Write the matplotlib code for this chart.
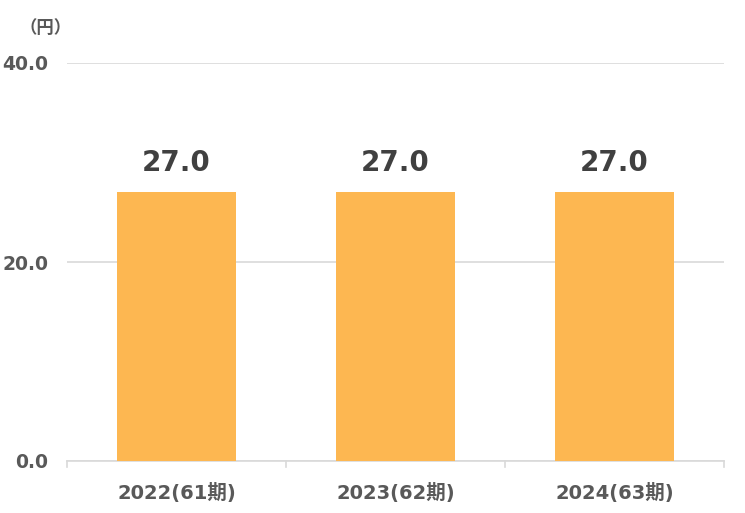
import matplotlib
matplotlib.use("Agg")
import matplotlib.pyplot as plt

categories = ["2022(61期)", "2023(62期)", "2024(63期)"]
values = [27.0, 27.0, 27.0]
yticks = [0, 20, 40]

plt.rcParams['font.family'] = ['DejaVu Sans', 'Noto Sans CJK JP']
gray = '#595959'
bar_color = '#FDB751'

fig = plt.figure(figsize=(7.45, 5.13), dpi=100)
ax = fig.add_axes([67/745, 52/513, (724-67)/745, (461-63)/513])

x = list(range(len(categories)))
bars = ax.bar(x, values, width=0.54, color=bar_color, zorder=3)
ax.set_xlim(-0.5, len(categories) - 0.5)
ax.set_ylim(0, 40)
ax.set_yticks(yticks)
ax.set_yticklabels([f"{v:.1f}" for v in yticks], fontsize=13.5, fontweight='bold', color=gray)
ax.tick_params(axis='y', length=0, pad=13.5)
ax.yaxis.grid(True, color='#D9D9D9', linewidth=1.2, zorder=0)

ax.set_xticks(x)
ax.set_xticklabels(categories, fontsize=14, fontweight='bold', color=gray,
                   family=['DejaVu Sans', 'Noto Sans CJK JP'])
ax.tick_params(axis='x', length=0, pad=16)
# category divider ticks
for b in [-0.5, 0.5, 1.5, 2.5]:
    ax.plot([b, b], [0, -0.6], color='#D9D9D9', lw=1.2, clip_on=False, zorder=4)

for s in ['top', 'right', 'left']:
    ax.spines[s].set_visible(False)
ax.spines['bottom'].set_color('#D9D9D9')
ax.spines['bottom'].set_linewidth(1.2)

for xi, v in zip(x, values):
    ax.annotate(f"{v:.1f}", (xi, v), xytext=(0, 11), textcoords='offset points',
                ha='center', va='bottom', fontsize=20, fontweight='bold', color='#404040')

fig.text(46/745, 1 - 28/513, "（円）", ha='center', va='center', fontsize=12.5,
         fontweight='bold', color=gray, family=['Noto Sans CJK JP', 'DejaVu Sans'])

fig.savefig("out.png", dpi=100)
